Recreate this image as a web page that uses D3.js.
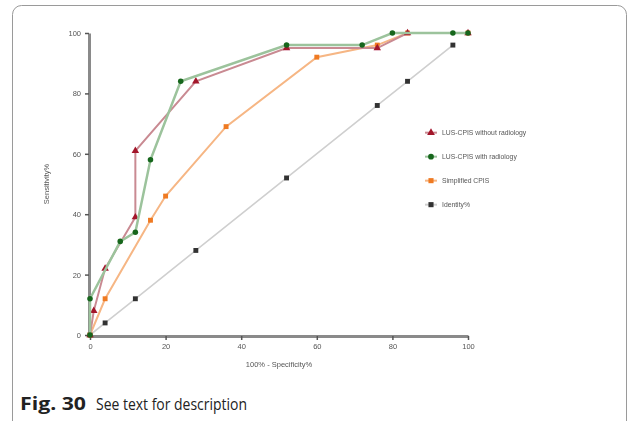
<!DOCTYPE html>
<html>
<head>
<meta charset="utf-8">
<script src="https://cdn.jsdelivr.net/npm/d3@7"></script>
<style>
  body { margin: 0; background: #fff; }
  svg { display: block; }
</style>
</head>
<body>
<div id="chart"></div>
<script>
// values (x = 100% - specificity, y = sensitivity)
const seriesNames = ["LUS-CPIS without radiology", "LUS-CPIS with radiology", "Simplified CPIS", "Identity%"];

const withoutRadX = [0, 1, 4, 12, 12, 28, 52, 76, 84, 100];
const withoutRadY = [0, 8, 22, 39, 61, 84, 95, 95, 100, 100];

const withRadX = [0, 0, 8, 12, 16, 24, 52, 72, 80, 96, 100];
const withRadY = [0, 12, 31, 34, 58, 84, 96, 96, 100, 100, 100];

const simpleX = [0, 4, 16, 20, 36, 60, 76, 84, 100];
const simpleY = [0, 12, 38, 46, 69, 92, 96, 100, 100];

const identityX = [0, 4, 12, 28, 52, 76, 84, 96];
const identityY = [0, 4, 12, 28, 52, 76, 84, 96];

const xTicks = [0, 20, 40, 60, 80, 100];
const yTicks = [0, 20, 40, 60, 80, 100];

const W = 632, H = 421;
const margin = {top: 33, left: 90, right: 164, bottom: 86};
const plotW = W - margin.left - margin.right,
      plotH = H - margin.top - margin.bottom;

const svg = d3.select("#chart").append("svg")
  .attr("width", W)
  .attr("height", H);

// soft look, like the scanned figure
svg.append("defs").append("filter")
    .attr("id", "soft")
  .append("feGaussianBlur")
    .attr("stdDeviation", 0.65);

// figure frame
svg.append("rect")
  .attr("x", 12.5).attr("y", 5.5)
  .attr("width", 614).attr("height", 440)
  .attr("rx", 9)
  .attr("fill", "none")
  .attr("stroke", "#9a9a9a")
  .attr("stroke-width", 1);

const g = svg.append("g")
  .attr("transform", `translate(${margin.left},${margin.top})`)
  .attr("filter", "url(#soft)");

const x = d3.scaleLinear().domain([0, 100]).range([0, plotW]);
const y = d3.scaleLinear().domain([0, 100]).range([plotH, 0]);

// axes
const xAxis = g.append("g")
  .attr("transform", `translate(0,${plotH + 1})`)
  .call(d3.axisBottom(x).tickValues(xTicks).tickSize(4).tickPadding(4).tickSizeOuter(0));
const yAxis = g.append("g")
  .attr("transform", "translate(-1,0)")
  .call(d3.axisLeft(y).tickValues(yTicks).tickSize(4).tickPadding(4).tickSizeOuter(0));

[xAxis, yAxis].forEach(a => {
  a.select(".domain").attr("stroke", "#8a8a8a").attr("stroke-width", 3);
  a.selectAll(".tick line").attr("stroke", "#555").attr("stroke-width", 1.5);
  a.selectAll(".tick text")
    .attr("fill", "#555")
    .style("font-family", "Arial, Liberation Sans, sans-serif")
    .style("font-size", "7.5px");
});

// axis titles
g.append("text")
  .attr("x", plotW / 2)
  .attr("y", plotH + 32)
  .attr("text-anchor", "middle")
  .attr("fill", "#555")
  .style("font-family", "Arial, Liberation Sans, sans-serif")
  .style("font-size", "7.5px")
  .text("100% - Specificity%");

g.append("text")
  .attr("transform", "rotate(-90)")
  .attr("x", -plotH / 2)
  .attr("y", -41)
  .attr("text-anchor", "middle")
  .attr("fill", "#555")
  .style("font-family", "Arial, Liberation Sans, sans-serif")
  .style("font-size", "7.5px")
  .text("Sensitivity%");

const series = [
  {name: seriesNames[3], xs: identityX, ys: identityY, line: "#cfcfcf", mark: "#333333", sym: d3.symbolSquare, lw: 1.6},
  {name: seriesNames[2], xs: simpleX, ys: simpleY, line: "#f6b684", mark: "#ef7a22", sym: d3.symbolSquare, lw: 2},
  {name: seriesNames[0], xs: withoutRadX, ys: withoutRadY, line: "#c98a92", mark: "#a3162c", sym: d3.symbolTriangle, lw: 2},
  {name: seriesNames[1], xs: withRadX, ys: withRadY, line: "#9cc39c", mark: "#16661c", sym: d3.symbolCircle, lw: 2.5}
];

const line = d3.line().x(d => x(d[0])).y(d => y(d[1]));

series.forEach(s => {
  const pts = s.xs.map((v, i) => [v, s.ys[i]]);
  g.append("path")
    .datum(pts)
    .attr("fill", "none")
    .attr("stroke", s.line)
    .attr("stroke-width", s.lw)
    .attr("d", line);
  g.selectAll(null)
    .data(pts)
    .join("path")
    .attr("transform", d => `translate(${x(d[0])},${y(d[1])})`)
    .attr("d", d3.symbol().type(s.sym).size(24))
    .attr("fill", s.mark);
});

// legend
const legendOrder = [
  {name: seriesNames[0], color: "#a3162c", line: "#c98a92", sym: d3.symbolTriangle},
  {name: seriesNames[1], color: "#16661c", line: "#9cc39c", sym: d3.symbolCircle},
  {name: seriesNames[2], color: "#ef7a22", line: "#f6b684", sym: d3.symbolSquare},
  {name: seriesNames[3], color: "#333333", line: "#cfcfcf", sym: d3.symbolSquare}
];
const legend = g.append("g").attr("transform", `translate(${x(100) - 37},${y(67)})`);
legend.selectAll("g")
  .data(legendOrder)
  .join("g")
  .attr("transform", (d, i) => `translate(0,${i * 24})`)
  .each(function (d) {
    const row = d3.select(this);
    row.append("line").attr("x1", -6).attr("x2", 6)
      .attr("stroke", d.line).attr("stroke-width", 2);
    row.append("path").attr("d", d3.symbol().type(d.sym).size(26)).attr("fill", d.color);
    row.append("text")
      .attr("x", 11).attr("dy", "0.35em")
      .attr("fill", "#555")
      .style("font-family", "Arial, Liberation Sans, sans-serif")
      .style("font-size", "6.8px")
      .text(d.name);
  });

// caption
const cap = svg.append("text")
  .attr("x", 20).attr("y", 410)
  .attr("fill", "#222")
  .style("font-family", "'Open Sans', 'Noto Sans', sans-serif")
  .style("font-size", "17px");
cap.append("tspan").attr("font-weight", "bold")
  .attr("textLength", 66).attr("lengthAdjust", "spacingAndGlyphs")
  .text("Fig. 30");
cap.append("tspan").attr("x", 96)
  .attr("textLength", 151).attr("lengthAdjust", "spacingAndGlyphs")
  .text("See text for description");
</script>
</body>
</html>
